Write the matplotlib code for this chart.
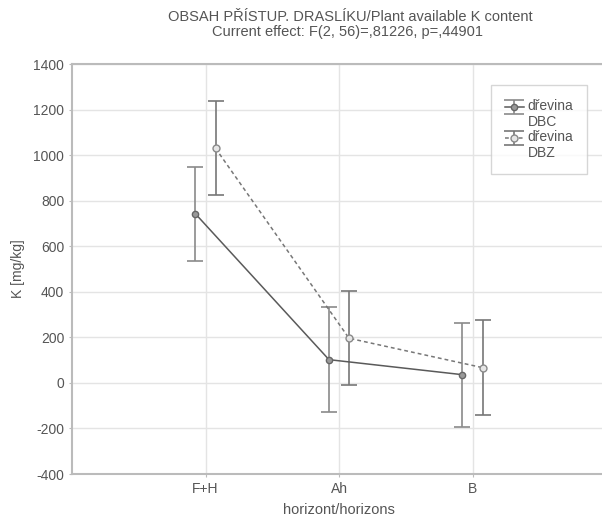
import numpy as np
import matplotlib
matplotlib.use("Agg")
from matplotlib import pyplot as plt
from matplotlib.lines import Line2D
from matplotlib.legend_handler import HandlerErrorbar

plt.rcParams['font.family'] = ['Liberation Sans', 'DejaVu Sans']
plt.rcParams['axes.unicode_minus'] = False

horizons = ["F+H", "Ah", "B"]
dbc_mean = [742, 102, 36]
dbc_err = [206, 231, 229]
dbz_mean = [1030, 196, 67]
dbz_err = [207, 207, 207]
labels = ["dřevina\nDBC", "dřevina\nDBZ"]


class TopErrorbar(HandlerErrorbar):
    # put the key next to the first line of a two-line label
    def create_artists(self, legend, orig_handle, xdescent, ydescent, width, height,
                       fontsize, trans):
        return super().create_artists(legend, orig_handle, xdescent, ydescent - 11,
                                      width, height, fontsize, trans)


fig = plt.figure(figsize=(6.02, 5.22), dpi=100)
ax = fig.add_axes([72/602, 1-474/522, 534/602, 410/522])

x = np.arange(1, len(horizons)+1)
off = 0.075
ax.errorbar(x-off, dbc_mean, yerr=dbc_err, fmt='o-', color='#5a5a5a', ecolor='#8a8a8a',
            elinewidth=1.2, capsize=6, capthick=1.2, markersize=4.5, mfc='#9a9a9a',
            mec='#666666', lw=1.1, label=labels[0])
ax.errorbar(x+off, dbz_mean, yerr=dbz_err, fmt='o--', color='#777777', ecolor='#777777',
            elinewidth=1.2, capsize=6, capthick=1.2, markersize=5, mfc='#e6e6e6',
            mec='#8a8a8a', lw=1.1, label=labels[1], dashes=(2.5, 2))

ax.set_xlim(0, 4)
ax.set_ylim(-400, 1400)
ax.set_yticks(np.arange(-400, 1401, 200))
ax.set_xticks(x)
ax.set_xticklabels(horizons)
ax.grid(True, color='#e4e4e4', lw=1)
ax.set_axisbelow(True)
for s in ax.spines.values():
    s.set_color('#bbbbbb')
    s.set_linewidth(1.5)
ax.spines['right'].set_visible(False)
ax.tick_params(colors='#bbbbbb', labelcolor='#555555', labelsize=10, length=2)

ax.set_xlabel("horizont/horizons", fontsize=10.5, color='#555555', labelpad=5)
ax.set_ylabel("K [mg/kg]", fontsize=10, color='#555555', labelpad=6)

fig.text(350/602, 1-17/522, "OBSAH PŘÍSTUP. DRASLÍKU/Plant available K content",
         ha='center', va='center', fontsize=10.5, color='#555555')
fig.text(348/602, 1-32/522, "Current effect: F(2, 56)=,81226, p=,44901",
         ha='center', va='center', fontsize=10.5, color='#555555')

leg = ax.legend(loc='upper left', bbox_to_anchor=(491/602, 1-85/522),
                bbox_transform=fig.transFigure, frameon=True,
                fontsize=10, handlelength=1.35, borderpad=1.0, labelspacing=0.05,
                handletextpad=0.3, fancybox=False, borderaxespad=0,
                handler_map={type(ax.containers[0]): TopErrorbar()})
leg.get_frame().set_edgecolor('#cccccc')
leg.get_frame().set_linewidth(1.0)
for t in leg.get_texts():
    t.set_color('#555555')
# wider caps in the legend keys, like the original
for l in leg.findobj(Line2D):
    if l.get_marker() == '_':
        l.set_markersize(15)

fig.savefig("out.png", dpi=100)
